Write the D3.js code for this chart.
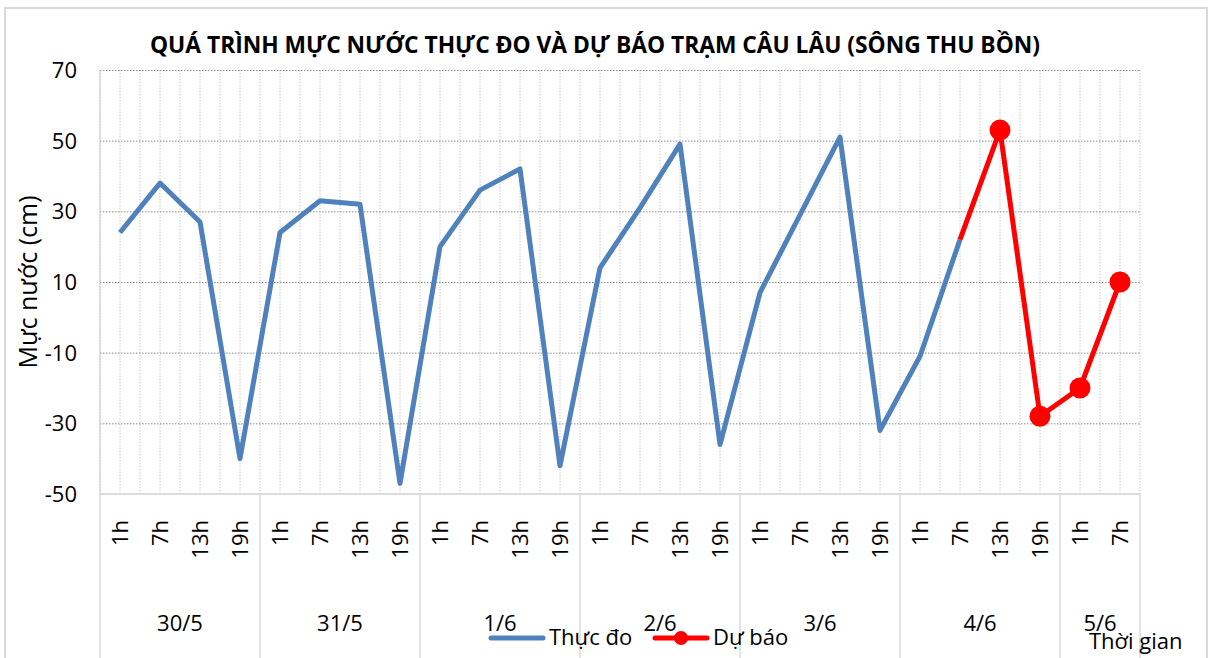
<!DOCTYPE html>
<html>
<head>
<meta charset="utf-8">
<script src="https://cdn.jsdelivr.net/npm/d3@7"></script>
<style>
  body { margin: 0; background: #fff; }
  svg text { font-family: "Open Sans", "Noto Sans", sans-serif; fill: #000; }
</style>
</head>
<body>
<svg id="chart" width="1210" height="658"></svg>
<script>
// data
const days = ["30/5", "31/5", "1/6", "2/6", "3/6", "4/6", "5/6"];
const hoursPerDay = [
  ["1h", "7h", "13h", "19h"],
  ["1h", "7h", "13h", "19h"],
  ["1h", "7h", "13h", "19h"],
  ["1h", "7h", "13h", "19h"],
  ["1h", "7h", "13h", "19h"],
  ["1h", "7h", "13h", "19h"],
  ["1h", "7h"]
];
// measured water level (cm), null where no value
const observed = [24, 38, 27, -40, 24, 33, 32, -47, 20, 36, 42, -42, 14, 31, 49, -36, 7, 29, 51, -32, -11, 22, null, null, null, null];
// forecast water level (cm)
const forecast = [null, null, null, null, null, null, null, null, null, null, null, null, null, null, null, null, null, null, null, null, null, 22, 53, -28, -20, 10];
// forecast points that carry a marker
const forecastMarked = [false, false, false, false, false, false, false, false, false, false, false, false, false, false, false, false, false, false, false, false, false, false, true, true, true, true];
const yTicks = [70, 50, 30, 10, -10, -30, -50];

function drawChart() {
  const spec = {
    left: 100, right: 1140, top: 70, bottom: 494
  };
  const svg = d3.select("#chart");

  // category list
  let cats = [];
  hoursPerDay.forEach((hs, di) => hs.forEach((h) => cats.push({ day: di, hour: h, key: di + "-" + h })));

  const x = d3.scaleBand().domain(cats.map((d) => d.key)).range([spec.left, spec.right]);
  const y = d3.scaleLinear().domain([-50, 70]).range([spec.bottom, spec.top]);
  const cx = (i) => x(cats[i].key) + x.bandwidth() / 2;

  // outer frame
  svg.append("rect")
    .attr("x", 5).attr("y", 8).attr("width", 1202).attr("height", 660)
    .attr("fill", "none").attr("stroke", "#d9d9d9").attr("stroke-width", 2);

  // vertical dotted gridlines (band edges and centres)
  const vLines = [];
  cats.forEach((d, i) => { vLines.push(x(d.key)); vLines.push(cx(i)); });
  vLines.push(spec.right);
  svg.append("g").selectAll("line").data(vLines).join("line")
    .attr("x1", (d) => d).attr("x2", (d) => d)
    .attr("y1", spec.top).attr("y2", spec.bottom)
    .attr("stroke", "#c8c8c8").attr("stroke-width", 1).attr("stroke-dasharray", "1.5,1.5");

  // horizontal dotted gridlines
  svg.append("g").selectAll("line").data(yTicks.filter((t) => t > -50)).join("line")
    .attr("x1", spec.left).attr("x2", spec.right)
    .attr("y1", (d) => y(d) + 0.5).attr("y2", (d) => y(d) + 0.5)
    .attr("stroke", "#8c8c8c").attr("stroke-width", 1).attr("stroke-dasharray", "1.5,1.5");

  // axis lines
  svg.append("line").attr("x1", spec.left).attr("x2", spec.left).attr("y1", spec.top).attr("y2", 658)
    .attr("stroke", "#d0d0d0").attr("stroke-width", 1.2);
  svg.append("line").attr("x1", spec.left).attr("x2", spec.right).attr("y1", spec.bottom).attr("y2", spec.bottom)
    .attr("stroke", "#d0d0d0").attr("stroke-width", 1.5);

  // day separators under the axis
  let start = 0;
  const dayBounds = [];
  hoursPerDay.forEach((hs, di) => {
    dayBounds.push({ day: days[di], x0: x(cats[start].key), x1: x(cats[start + hs.length - 1].key) + x.bandwidth() });
    start += hs.length;
  });
  svg.append("g").selectAll("line").data(dayBounds).join("line")
    .attr("x1", (d) => d.x1).attr("x2", (d) => d.x1)
    .attr("y1", spec.bottom).attr("y2", 658)
    .attr("stroke", "#d0d0d0").attr("stroke-width", 1.2);

  // y tick labels
  svg.append("g").selectAll("text").data(yTicks).join("text")
    .attr("x", 77).attr("y", (d) => y(d) + 8)
    .attr("text-anchor", "end").attr("font-size", 22)
    .text((d) => d);

  // hour labels, rotated
  svg.append("g").selectAll("text").data(cats).join("text")
    .attr("transform", (d, i) => `translate(${cx(i) + 8},${spec.bottom + 26}) rotate(-90)`)
    .attr("text-anchor", "end").attr("font-size", 22)
    .text((d) => d.hour);

  // day labels
  svg.append("g").selectAll("text").data(dayBounds).join("text")
    .attr("x", (d) => (d.x0 + d.x1) / 2).attr("y", 631)
    .attr("text-anchor", "middle").attr("font-size", 22)
    .text((d) => d.day);

  // title
  svg.append("text").attr("x", 595).attr("y", 53)
    .attr("text-anchor", "middle").attr("font-size", 24).attr("font-weight", "bold")
    .attr("textLength", 890).attr("lengthAdjust", "spacingAndGlyphs")
    .text("QUÁ TRÌNH MỰC NƯỚC THỰC ĐO VÀ DỰ BÁO TRẠM CÂU LÂU (SÔNG THU BỒN)");

  // y axis title
  svg.append("text").attr("transform", "translate(37,282) rotate(-90)")
    .attr("text-anchor", "middle").attr("font-size", 25).attr("fill", "#222")
    .text("Mực nước (cm)");

  // x axis title
  svg.append("text").attr("x", 1089).attr("y", 649).attr("font-size", 22)
    .text("Thời gian");

  // series
  const idx = d3.range(cats.length);
  const line = (arr) => d3.line().defined((i) => arr[i] !== null).x((i) => cx(i)).y((i) => y(arr[i]));

  svg.append("path").datum(idx).attr("d", line(observed))
    .attr("fill", "none").attr("stroke", "#4F81BD").attr("stroke-width", 5)
    .attr("stroke-linejoin", "round");

  svg.append("path").datum(idx).attr("d", line(forecast))
    .attr("fill", "none").attr("stroke", "#FF0000").attr("stroke-width", 5)
    .attr("stroke-linejoin", "round");

  svg.append("g").selectAll("circle").data(idx.filter((i) => forecast[i] !== null && forecastMarked[i])).join("circle")
    .attr("cx", (i) => cx(i)).attr("cy", (i) => y(forecast[i])).attr("r", 10.5)
    .attr("fill", "#FF0000");

  // legend
  const lg = svg.append("g");
  lg.append("line").attr("x1", 491).attr("x2", 543).attr("y1", 638).attr("y2", 638)
    .attr("stroke", "#4F81BD").attr("stroke-width", 5).attr("stroke-linecap", "round");
  lg.append("text").attr("x", 549).attr("y", 645).attr("font-size", 22).text("Thực đo");
  lg.append("line").attr("x1", 655).attr("x2", 707).attr("y1", 638).attr("y2", 638)
    .attr("stroke", "#FF0000").attr("stroke-width", 5).attr("stroke-linecap", "round");
  lg.append("circle").attr("cx", 681).attr("cy", 638).attr("r", 7).attr("fill", "#FF0000");
  lg.append("text").attr("x", 713).attr("y", 645).attr("font-size", 22).text("Dự báo");
}

drawChart();
</script>
</body>
</html>
